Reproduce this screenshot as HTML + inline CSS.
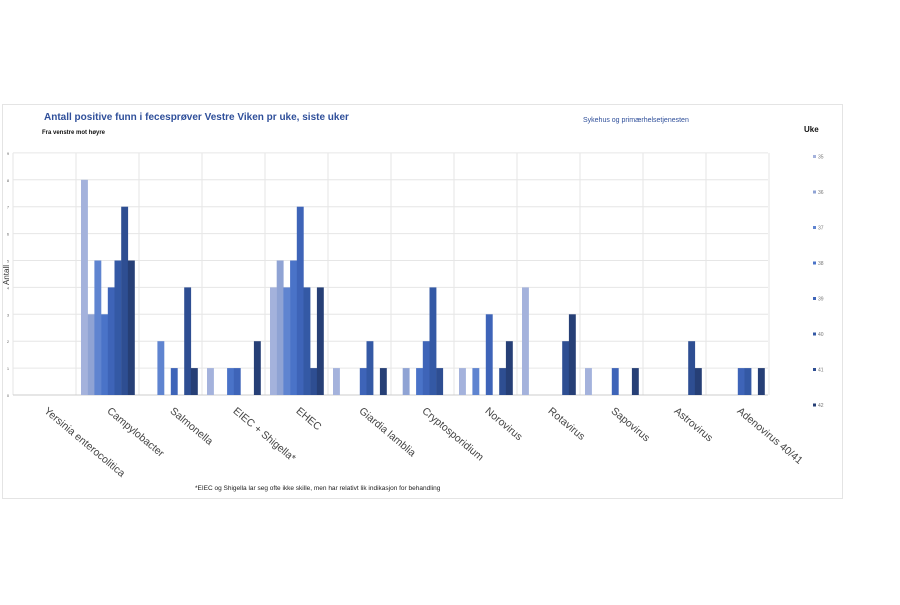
<!DOCTYPE html>
<html><head><meta charset="utf-8"><style>
body{margin:0;background:#fff;width:900px;height:600px;overflow:hidden;font-family:"Liberation Sans",sans-serif}
</style></head><body>
<svg width="900" height="600" xmlns="http://www.w3.org/2000/svg" font-family="Liberation Sans, sans-serif">
<rect x="2.5" y="104.5" width="840" height="394" fill="#fff" stroke="#e4e4e4"/>
<text x="44" y="120" font-size="10" fill="#2f4f9a" font-weight="bold">Antall positive funn i fecesprøver Vestre Viken pr uke, siste uker</text>
<text x="42" y="134" font-size="6" fill="#111" font-weight="bold">Fra venstre mot høyre</text>
<text x="583" y="122" font-size="7" fill="#2f4f9a">Sykehus og primærhelsetjenesten</text>
<text x="804" y="132" font-size="8" fill="#111" font-weight="bold">Uke</text>
<text x="9" y="275" font-size="8" fill="#333" transform="rotate(-90 9 275)" text-anchor="middle">Antall</text>
<g id="grid"></g>
<g id="bars"></g>
<g id="labels"></g>
<g id="legend"></g>
</svg>
<script>
const ns="http://www.w3.org/2000/svg";
function el(t,a,p,txt){const e=document.createElementNS(ns,t);for(const k in a)e.setAttribute(k,a[k]);if(txt!==undefined)e.textContent=txt;document.getElementById(p).appendChild(e);}
const y0=395,u=26.9,x0=13,cw=63,bw=6.7;
for(let i=0;i<=9;i++){const y=y0-i*u;el('line',{x1:x0,x2:768,y1:y,y2:y,stroke:'#e6e6e6','stroke-width':1},'grid');el('text',{x:8,y:y+2,'font-size':4,fill:'#666','text-anchor':'middle'},'grid',i);}
for(let k=0;k<=12;k++){const x=x0+k*cw;el('line',{x1:x,x2:x,y1:y0-9*u,y2:y0,stroke:'#e6e6e6'},'grid');}
const cols=['#a4b2dc','#8fa3d4','#5f84d0','#4a73c8','#3e64b8','#3459a5','#2e4e92','#263f76'];
const names=['Yersinia enterocolitica','Campylobacter','Salmonella','EIEC + Shigella*','EHEC','Giardia lamblia','Cryptosporidium','Norovirus','Rotavirus','Sapovirus','Astrovirus','Adenovirus 40/41'];
const d=[[0,0,0,0,0,0,0,0],[8,3,5,3,4,5,7,5],[0,0,2,0,1,0,4,1],[1,0,0,1,1,0,0,2],[4,5,4,5,7,4,1,4],[1,0,0,0,1,2,0,1],[0,1,0,1,2,4,1,0],[1,0,1,0,3,0,1,2],[4,0,0,0,0,0,2,3],[1,0,0,0,1,0,0,1],[0,0,0,0,0,0,2,1],[0,0,0,0,1,1,0,1]];
d.forEach((r,k)=>{r.forEach((v,i)=>{if(v>0)el('rect',{x:x0+k*cw+5+i*bw,y:y0-v*u,width:bw+0.2,height:v*u,fill:cols[i]},'bars');});
const cx=x0+k*cw+cw/2-1;el('text',{x:cx,y:412,'font-size':10.5,fill:'#444',transform:`rotate(40 ${cx} 412)`},'labels',names[k]);});
el('line',{x1:x0,x2:768,y1:y0,y2:y0,stroke:'#ccc'},'grid');
for(let i=0;i<8;i++){const y=157+i*35.5;el('rect',{x:813,y:y-2,width:3,height:3,fill:cols[i]},'legend');el('text',{x:818,y:y+1.5,'font-size':5,fill:'#777'},'legend',35+i);}
el('text',{x:195,y:490,'font-size':6.5,fill:'#222'},'legend','*EIEC og Shigella lar seg ofte ikke skille, men har relativt lik indikasjon for behandling');
</script>
</body></html>
